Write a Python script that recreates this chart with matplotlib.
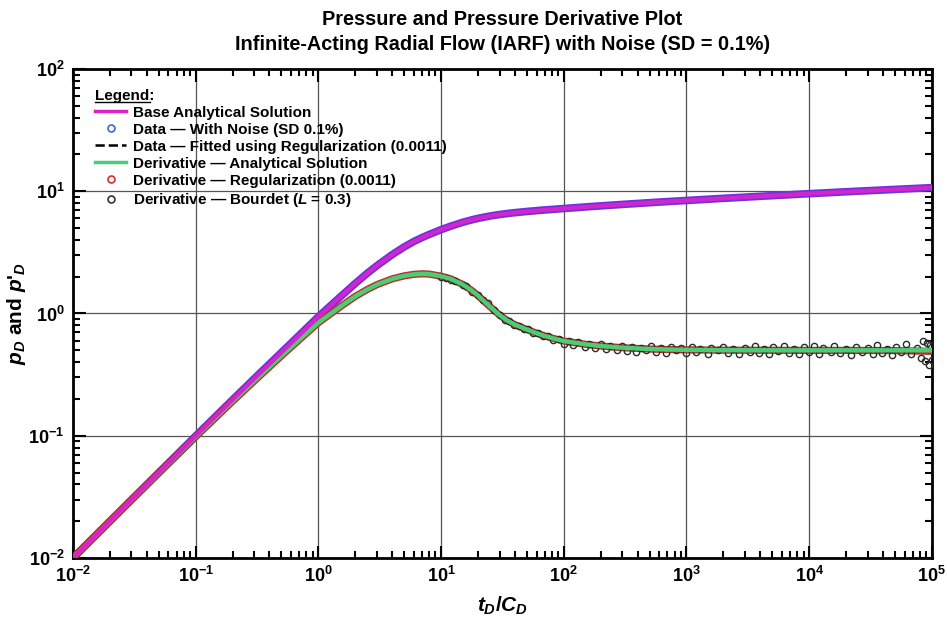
import numpy as np
import matplotlib
matplotlib.use('Agg')
import matplotlib.pyplot as plt
from matplotlib.lines import Line2D
from matplotlib import font_manager
from matplotlib.ticker import LogLocator, NullFormatter

# dimensionless time t_D/C_D for the analytical / fitted curves
t_main = [0.01, 0.02, 0.05, 0.1, 0.2, 0.3, 0.5, 0.7, 1, 1.5, 2, 2.5, 3, 4, 5, 6, 7, 8,
          10, 12, 15, 18, 20, 25, 30, 35, 40, 50, 60, 70, 85, 100, 150, 200, 300, 500,
          700, 1000, 2000, 5000, 1e4, 2e4, 5e4, 1e5]
p_base = [0.01, 0.02, 0.0499, 0.0995, 0.197, 0.293, 0.48, 0.665, 0.94, 1.36, 1.76, 2.13,
          2.46, 3.03, 3.5, 3.88, 4.18, 4.43, 4.85, 5.18, 5.57, 5.85, 6.0, 6.27, 6.45, 6.58,
          6.68, 6.83, 6.94, 7.03, 7.13, 7.22, 7.44, 7.59, 7.8, 8.06, 8.23, 8.4, 8.75, 9.2,
          9.55, 9.9, 10.35, 10.7]
p_noise = list(p_base)
p_fit = list(p_base)
dp_analytic = [0.01, 0.0199, 0.0495, 0.098, 0.191, 0.28, 0.45, 0.61, 0.84, 1.13, 1.38, 1.57,
               1.72, 1.92, 2.03, 2.09, 2.11, 2.1, 2.02, 1.92, 1.73, 1.53, 1.4, 1.14, 0.97,
               0.87, 0.81, 0.74, 0.69, 0.655, 0.62, 0.595, 0.56, 0.542, 0.525, 0.512, 0.507,
               0.504, 0.501, 0.5, 0.5, 0.5, 0.5, 0.5]
dp_reg = [0.01, 0.0199, 0.0495, 0.098, 0.191, 0.28, 0.45, 0.61, 0.84, 1.13, 1.38, 1.57,
          1.72, 1.92, 2.03, 2.09, 2.11, 2.1, 2.02, 1.92, 1.73, 1.53, 1.4, 1.14, 0.97,
          0.87, 0.81, 0.74, 0.69, 0.655, 0.62, 0.595, 0.56, 0.542, 0.525, 0.512, 0.507,
          0.504, 0.501, 0.5, 0.499, 0.499, 0.497, 0.49]

# Bourdet derivative (noisy)
t_bourdet = [10, 11, 12, 13, 15, 16, 18, 20, 22, 24, 27, 30, 33, 36, 39, 43, 47, 51, 56, 62,
             68, 75, 82, 91, 100, 110, 120, 130, 150, 160, 180, 200, 220, 240, 270, 300, 330,
             360, 390, 430, 470, 510, 560, 620, 680, 750, 820, 910, 1000, 1100, 1200, 1300,
             1500, 1600, 1800, 2000, 2200, 2400, 2700, 3000, 3300, 3600, 3900, 4300, 4700,
             5100, 5600, 6200, 6800, 7500, 8200, 9100, 10000, 11000, 12000, 13000, 15000,
             16000, 18000, 20000, 22000, 24000, 27000, 30000, 33000, 36000, 39000, 43000,
             47000, 51000, 56000, 62000, 68000, 75000, 82000, 85000, 88000, 91000, 95000,
             97000, 100000]
dp_bourdet = [2.0, 1.95, 1.89, 1.85, 1.72, 1.67, 1.51, 1.41, 1.29, 1.21, 1.06, 0.98, 0.89,
              0.86, 0.8, 0.79, 0.74, 0.745, 0.69, 0.695, 0.65, 0.655, 0.605, 0.615, 0.565,
              0.595, 0.55, 0.585, 0.53, 0.565, 0.525, 0.56, 0.51, 0.545, 0.505, 0.54, 0.495,
              0.535, 0.485, 0.525, 0.5, 0.54, 0.485, 0.525, 0.475, 0.535, 0.5, 0.525, 0.475,
              0.535, 0.485, 0.515, 0.465, 0.525, 0.5, 0.535, 0.475, 0.515, 0.465, 0.525,
              0.485, 0.54, 0.475, 0.515, 0.465, 0.53, 0.495, 0.54, 0.475, 0.515, 0.465,
              0.53, 0.485, 0.54, 0.465, 0.525, 0.485, 0.54, 0.475, 0.515, 0.455, 0.535,
              0.485, 0.525, 0.465, 0.55, 0.475, 0.515, 0.455, 0.535, 0.485, 0.56, 0.465,
              0.525, 0.43, 0.6, 0.41, 0.57, 0.38, 0.55, 0.42]

names = {f.name for f in font_manager.fontManager.ttflist}
narrow = 'Liberation Sans Narrow' if 'Liberation Sans Narrow' in names else 'Liberation Sans'

plt.rcParams['font.family'] = ['Liberation Sans', 'DejaVu Sans']
plt.rcParams['font.weight'] = 'bold'
plt.rcParams['axes.labelweight'] = 'bold'
plt.rcParams['axes.unicode_minus'] = False
plt.rcParams['mathtext.fontset'] = 'custom'
plt.rcParams['mathtext.rm'] = narrow + ':bold'
plt.rcParams['mathtext.it'] = narrow + ':italic:bold'
plt.rcParams['mathtext.bf'] = narrow + ':bold'

fig = plt.figure(figsize=(9.47, 6.3), dpi=100)
ax = fig.add_axes([0.077, 0.1143, 0.907, 0.7762])

ax.plot(t_main, p_fit, color='black', lw=1.2, ls='--', zorder=2)
ax.plot(t_main, p_noise, color='#6a34e0', lw=5.5, solid_capstyle='round', zorder=3)
ax.plot(t_main, dp_reg, color='#b8302c', lw=5.2, solid_capstyle='round', zorder=4)
ax.plot(t_bourdet, dp_bourdet, ls='none', marker='o', ms=4.5, mfc='none', mec='#2a2a2a',
        mew=1.0, zorder=4.5)
ax.plot(t_main, dp_analytic, color='#4ccc74', lw=3.2, zorder=5)
ax.plot(t_main, p_base, color='#d424cc', lw=3, zorder=6)

ax.set_xscale('log')
ax.set_yscale('log')
ax.set_xlim(1e-2, 1e5)
ax.set_ylim(1e-2, 1e2)
ax.xaxis.set_major_locator(LogLocator(base=10, numticks=20))
ax.yaxis.set_major_locator(LogLocator(base=10, numticks=20))
ax.xaxis.set_minor_locator(LogLocator(base=10, subs=np.arange(2, 10), numticks=20))
ax.yaxis.set_minor_locator(LogLocator(base=10, subs=np.arange(2, 10), numticks=20))
ax.xaxis.set_minor_formatter(NullFormatter())
ax.yaxis.set_minor_formatter(NullFormatter())
ax.tick_params(which='both', direction='in', top=True, right=True, width=1.5, colors='black')
ax.tick_params(which='major', length=9, labelsize=13, pad=6)
ax.tick_params(which='minor', length=5)
ax.grid(which='major', color='#555555', lw=0.9, zorder=0)
for s in ax.spines.values():
    s.set_linewidth(2)

ax.set_xlabel(r'$t_D/C_D$', fontsize=15, labelpad=6)
ax.set_ylabel(r"$p_D$ and $p$'$_D$", fontsize=15, fontweight='bold')
ax.yaxis.set_label_coords(-0.052, 0.5)
ax.set_title('Pressure and Pressure Derivative Plot\n'
             'Infinite-Acting Radial Flow (IARF) with Noise (SD = 0.1%)',
             fontsize=14.3, fontweight='bold', pad=14, linespacing=1.4)

handles = [
    Line2D([], [], color='#dc22c8', lw=2.5),
    Line2D([], [], ls='none', marker='o', ms=5, mfc='none', mec='#3a6ad0', mew=1.2),
    Line2D([], [], color='black', lw=1.8, ls='--'),
    Line2D([], [], color='#4ccc74', lw=2.5),
    Line2D([], [], ls='none', marker='o', ms=5, mfc='none', mec='#d03030', mew=1.2),
    Line2D([], [], ls='none', marker='o', ms=5, mfc='none', mec='#333333', mew=1.2),
]
labels = [
    'Base Analytical Solution',
    'Data \u2014 With Noise (SD 0.1%)',
    'Data \u2014 Fitted using Regularization (0.0011)',
    'Derivative \u2014 Analytical Solution',
    'Derivative \u2014 Regularization (0.0011)',
    'Derivative \u2014 Bourdet ($L$ = 0.3)',
]
leg = ax.legend(handles, labels, loc='upper left', bbox_to_anchor=(0.012, 0.985),
                frameon=False, title='Legend:', alignment='left', handlelength=2.0,
                handletextpad=0.45, labelspacing=0.2, borderpad=0.3,
                prop={'size': 11, 'weight': 'bold'},
                title_fontproperties={'size': 11, 'weight': 'bold'})
leg.set_zorder(10)

# underline the word "Legend"
fig.canvas.draw()
r = fig.canvas.get_renderer()
tb = leg.get_title().get_window_extent(r)
w, h, d = r.get_text_width_height_descent('Legend', leg.get_title().get_fontproperties(), ismath=False)
fig.add_artist(Line2D([tb.x0 / fig.bbox.width, (tb.x0 + w) / fig.bbox.width],
                      [(tb.y0 + d - 2) / fig.bbox.height] * 2,
                      color='black', lw=1, transform=fig.transFigure))

fig.savefig('out.png', dpi=100)
